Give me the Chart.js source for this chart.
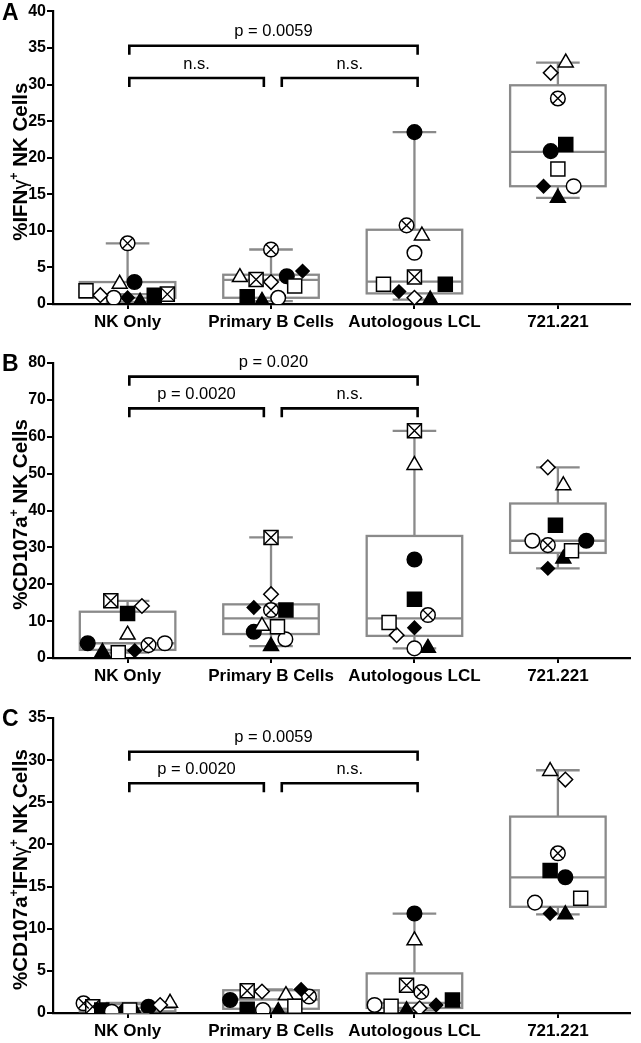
<!DOCTYPE html>
<html><head><meta charset="utf-8">
<script src="https://cdn.jsdelivr.net/npm/chart.js@4.4.1/dist/chart.umd.min.js"></script>
<style>
html,body{margin:0;padding:0;background:#fff;}
#wrap{position:relative;width:641px;height:1043px;overflow:hidden;}
.pane{position:absolute;left:0;width:641px;}
</style></head><body>
<div id="wrap">
<div class="pane" style="top:0;height:335px"><canvas id="cA"></canvas></div>
<div class="pane" style="top:335px;height:358px"><canvas id="cB"></canvas></div>
<div class="pane" style="top:693px;height:350px"><canvas id="cC"></canvas></div>
</div>
<script>
// ---------- DATA ----------
const categories = ['NK Only', 'Primary B Cells', 'Autologous LCL', '721.221'];
// donor marker order
const donorStyles = ['openSquare','openDiamond','openCircle','filledDiamond','filledTriangle','filledSquare','crossedSquare','crossedCircle','openTriangle','filledCircle'];

// Panel A: %IFNγ+ NK cells (values per category, donor order)
const ifngNK  = [1.8, 1.2, 0.85, 0.85, 0.3, 1.2, 1.35, 8.3, 2.75, 3.0];
const ifngPB  = [2.45, 3.0, 0.85, 4.5, 0.4, 1.0, 3.35, 7.45, 3.65, 3.8];
const ifngLCL = [2.7, 0.85, 7.0, 1.7, 0.6, 2.7, 3.7, 10.75, 9.35, 23.5];
const ifng721 = [18.45, 31.6, 16.1, 16.1, 14.5, 21.8, null, 28.1, 33.0, 20.9];
const ifngMin = [0.3, 0.4, 0.6, 14.5];
const ifngQ1  = [0.85, 0.85, 1.45, 16.1];
const ifngMed = [1.35, 3.3, 3.05, 20.8];
const ifngQ3  = [3.0, 4.0, 10.15, 29.9];
const ifngMax = [8.3, 7.45, 23.5, 33.0];
const ifngTicks = [0, 5, 10, 15, 20, 25, 30, 35, 40];
const ifngBrackets = [35.3, 30.9, 30.9];
const ifngLabels = ['p = 0.0059', 'n.s.', 'n.s.'];

// Panel B: %CD107a+ NK cells
const cdNK  = [1.45, 14.1, 4.0, 2.0, 1.6, 12.1, 15.5, 3.5, 6.3, 4.0];
const cdPB  = [8.5, 17.3, 5.1, 13.7, 3.2, 13.0, 32.7, 13.0, 8.7, 7.1];
const cdLCL = [9.6, 6.2, 2.6, 8.2, 2.7, 15.9, 61.6, 11.65, 52.3, 26.7];
const cd721 = [29.1, 51.7, 31.8, 24.3, 26.9, 36.0, null, 30.6, 46.8, 31.8];
const cdMin = [1.45, 3.2, 2.6, 24.3];
const cdQ1  = [2.2, 6.5, 6.0, 28.5];
const cdMed = [4.0, 10.75, 10.75, 31.8];
const cdQ3  = [12.55, 14.55, 33.1, 41.9];
const cdMax = [15.5, 32.7, 61.6, 51.7];
const cdTicks = [0, 10, 20, 30, 40, 50, 60, 70, 80];
const cdBrackets = [76.3, 67.7, 67.7];
const cdLabels = ['p = 0.020', 'p = 0.0020', 'n.s.'];

// Panel C: %CD107a+IFNγ+ NK cells
const dpNK  = [0.35, 0.95, 0.15, 0.25, 0.05, 0.35, 0.75, 1.15, 1.2, 0.75];
const dpPB  = [0.8, 2.55, 0.35, 2.8, 0.2, 0.45, 2.65, 1.95, 2.1, 1.55];
const dpLCL = [0.8, 0.55, 0.95, 0.95, 0.3, 1.55, 3.3, 2.5, 8.6, 11.8];
const dp721 = [13.6, 27.7, 13.1, 11.8, 11.7, 16.9, null, 18.95, 28.7, 16.1];
const dpMin = [0.05, 0.2, 0.3, 11.7];
const dpQ1  = [0.2, 0.5, 0.6, 12.6];
const dpMed = [0.6, 1.6, 1.2, 16.1];
const dpQ3  = [1.05, 2.7, 4.7, 23.3];
const dpMax = [1.2, 2.8, 11.8, 28.8];
const dpTicks = [0, 5, 10, 15, 20, 25, 30, 35];
const dpBrackets = [31.0, 27.25, 27.25];
const dpLabels = ['p = 0.0059', 'p = 0.0020', 'n.s.'];

// horizontal scatter (jitter) of the points, in category units (layout only)
const jitA = [
  [-0.29, -0.19, -0.096, 0, 0.087, 0.186, 0.277, 0, -0.055, 0.048],
  [0.165, 0, 0.05, 0.22, -0.063, -0.166, -0.104, 0, -0.217, 0.11],
  [-0.216, 0, 0, -0.108, 0.11, 0.215, 0, -0.055, 0.052, 0],
  [0, -0.05, 0.11, -0.1, 0, 0.055, 0, 0, 0.055, -0.05]];
const jitB = [
  [-0.065, 0.1, 0.26, 0.05, -0.175, 0, -0.117, 0.146, 0, -0.278],
  [0.045, 0, 0.1, -0.12, 0, 0.104, 0, 0, -0.063, -0.12],
  [-0.177, -0.124, 0, 0, 0.094, 0, 0, 0.094, 0, 0],
  [0.095, -0.07, -0.178, -0.07, 0.038, -0.017, 0, -0.07, 0.038, 0.198]];
const jitC = [
  [0.014, 0.227, -0.11, -0.037, 0.055, -0.18, -0.243, -0.307, 0.296, 0.146],
  [0.166, -0.063, -0.056, 0.21, 0.05, -0.166, -0.166, 0.265, 0.104, -0.285],
  [-0.163, 0.036, -0.278, 0.151, -0.055, 0.265, -0.055, 0.048, 0, 0],
  [0.159, 0.052, -0.16, -0.054, 0.052, -0.054, 0, 0, -0.054, 0.052]];

// ---------- RENDERING ----------
const FONT = "'Liberation Sans', Arial, Helvetica, sans-serif";
const BOX_COLOR = '#8a8a8a';

function markerDatasets(vals, jit) {
  const base = [], overlays = [];
  donorStyles.forEach((st, d) => {
    const data = [];
    for (let c = 0; c < 4; c++) {
      const v = vals[c][d];
      if (v !== null && v !== undefined) data.push({x: c + jit[c][d], y: v});
    }
    const filled = st.startsWith('filled');
    let ps, r;
    if (st.endsWith('Square')) { ps = 'rect'; r = 9.9; }
    else if (st.endsWith('Diamond')) { ps = 'rectRot'; r = filled ? 6.6 : 7.3; }
    else if (st.endsWith('Circle')) { ps = 'circle'; r = 7.3; }
    else { ps = 'triangle'; r = 8.6; }
    base.push({data, pointStyle: ps, pointRadius: r, pointHoverRadius: r,
      pointBackgroundColor: filled ? '#000' : '#fff', pointBorderColor: '#000',
      pointBorderWidth: 1.5, pointHoverBorderWidth: 1.5, showLine: false});
    if (st.startsWith('crossed')) {
      const cr = ps === 'rect' ? 9.9 : 7.3;
      overlays.push({data, pointStyle: 'crossRot', pointRadius: cr, pointHoverRadius: cr,
        pointBorderColor: '#000', pointBackgroundColor: '#000', pointBorderWidth: 1.4, showLine: false});
    }
  });
  return overlays.concat(base);
}

const panelPlugin = {
  id: 'panelPlugin',
  beforeDatasetsDraw(chart) {
    const p = chart.options.plugins.panelPlugin;
    const xs = chart.scales.x, ys = chart.scales.y, ctx = chart.ctx;
    const unit = xs.getPixelForValue(1) - xs.getPixelForValue(0);
    const hw = 0.333 * unit, cw = 0.152 * unit;
    ctx.save();
    ctx.strokeStyle = BOX_COLOR; ctx.lineWidth = 2.3; ctx.lineCap = 'butt';
    for (let c = 0; c < 4; c++) {
      const xc = xs.getPixelForValue(c);
      const yMin = ys.getPixelForValue(p.box.min[c]), yQ1 = ys.getPixelForValue(p.box.q1[c]);
      const yMed = ys.getPixelForValue(p.box.med[c]), yQ3 = ys.getPixelForValue(p.box.q3[c]);
      const yMax = ys.getPixelForValue(p.box.max[c]);
      ctx.beginPath();
      ctx.moveTo(xc, yMin); ctx.lineTo(xc, yQ1);
      ctx.moveTo(xc, yQ3); ctx.lineTo(xc, yMax);
      ctx.moveTo(xc - cw, yMin); ctx.lineTo(xc + cw, yMin);
      ctx.moveTo(xc - cw, yMax); ctx.lineTo(xc + cw, yMax);
      ctx.moveTo(xc - hw, yMed); ctx.lineTo(xc + hw, yMed);
      ctx.stroke();
      ctx.strokeRect(xc - hw, yQ3, 2 * hw, yQ1 - yQ3);
    }
    ctx.restore();
  },
  afterDraw(chart) {
    const p = chart.options.plugins.panelPlugin;
    const xs = chart.scales.x, ys = chart.scales.y, ctx = chart.ctx;
    const ca = chart.chartArea;
    ctx.save();
    // brackets
    const spans = [[0.012, 2.022], [0.012, 0.95], [1.075, 2.022]];
    ctx.strokeStyle = '#000'; ctx.lineWidth = 2.6; ctx.lineCap = 'butt'; ctx.lineJoin = 'miter';
    ctx.fillStyle = '#000';
    ctx.font = '16.5px ' + FONT; ctx.textAlign = 'center'; ctx.textBaseline = 'middle';
    spans.forEach((s, i) => {
      const x1 = xs.getPixelForValue(s[0]), x2 = xs.getPixelForValue(s[1]);
      const y = ys.getPixelForValue(p.brackets[i]);
      ctx.beginPath();
      ctx.moveTo(x1, y + 9); ctx.lineTo(x1, y); ctx.lineTo(x2, y); ctx.lineTo(x2, y + 9);
      ctx.stroke();
      ctx.fillText(p.labels[i], (x1 + x2) / 2, y - 14);
    });
    // panel letter
    ctx.font = 'bold 23px ' + FONT; ctx.textAlign = 'left';
    ctx.fillText(p.letter, 2, ys.getPixelForValue(ys.max) + 2);
    // y title with superscripts
    const cy = (ca.top + ca.bottom) / 2 + 4;
    ctx.translate(19, cy); ctx.rotate(-Math.PI / 2);
    const fonts = {b: 'bold 20.5px ' + FONT, g: '19.5px ' + FONT, s: 'bold 12.5px ' + FONT};
    let total = 0;
    p.title.forEach(part => { ctx.font = fonts[part[1]]; total += ctx.measureText(part[0]).width; });
    let x = -total / 2;
    ctx.textAlign = 'left'; ctx.textBaseline = 'alphabetic';
    p.title.forEach(part => {
      ctx.font = fonts[part[1]];
      ctx.fillText(part[0], x, part[1] === 's' ? -1 : 7.5);
      x += ctx.measureText(part[0]).width;
    });
    ctx.restore();
  }
};

function makeChart(id, cfg) {
  const tickList = cfg.ticks;
  return new Chart(document.getElementById(id), {
    type: 'scatter',
    data: {datasets: markerDatasets(cfg.vals, cfg.jit)},
    options: {
      responsive: true, maintainAspectRatio: false, animation: false,
      events: [],
      layout: {padding: {top: cfg.padTop, right: 3, left: 0, bottom: 0}},
      plugins: {
        legend: {display: false}, tooltip: {enabled: false},
        panelPlugin: {box: cfg.box, brackets: cfg.brackets, labels: cfg.labels, letter: cfg.letter, title: cfg.title}
      },
      scales: {
        x: {
          type: 'linear', min: -0.52, max: 3.5,
          afterBuildTicks: s => { s.ticks = [0, 1, 2, 3].map(v => ({value: v})); },
          afterFit: s => { s.height = cfg.xH; },
          ticks: {callback: v => categories[v], color: '#000', padding: 3, maxRotation: 0, autoSkip: false,
            font: {family: FONT, size: 17, weight: 'bold'}},
          grid: {display: true, drawOnChartArea: false, drawTicks: true, tickLength: 5, color: '#000', lineWidth: 2},
          border: {display: true, color: '#000', width: 2.2}
        },
        y: {
          type: 'linear', min: tickList[0], max: tickList[tickList.length - 1],
          afterBuildTicks: s => { s.ticks = tickList.map(v => ({value: v})); },
          afterFit: s => { s.width = 53; },
          ticks: {color: '#000', padding: 1, font: {family: FONT, size: 16, weight: 'bold'}},
          grid: {display: true, drawOnChartArea: false, drawTicks: true, tickLength: 6, color: '#000', lineWidth: 2},
          border: {display: true, color: '#000', width: 2.2}
        }
      }
    },
    plugins: [panelPlugin]
  });
}

makeChart('cA', {
  vals: [ifngNK, ifngPB, ifngLCL, ifng721], jit: jitA, ticks: ifngTicks,
  box: {min: ifngMin, q1: ifngQ1, med: ifngMed, q3: ifngQ3, max: ifngMax},
  brackets: ifngBrackets, labels: ifngLabels, letter: 'A',
  title: [['%IFN', 'b'], ['γ', 'g'], ['+', 's'], [' NK Cells', 'b']],
  padTop: 9, xH: 31
});
makeChart('cB', {
  vals: [cdNK, cdPB, cdLCL, cd721], jit: jitB, ticks: cdTicks,
  box: {min: cdMin, q1: cdQ1, med: cdMed, q3: cdQ3, max: cdMax},
  brackets: cdBrackets, labels: cdLabels, letter: 'B',
  title: [['%CD107a', 'b'], ['+', 's'], [' NK Cells', 'b']],
  padTop: 28, xH: 35
});
makeChart('cC', {
  vals: [dpNK, dpPB, dpLCL, dp721], jit: jitC, ticks: dpTicks,
  box: {min: dpMin, q1: dpQ1, med: dpMed, q3: dpQ3, max: dpMax},
  brackets: dpBrackets, labels: dpLabels, letter: 'C',
  title: [['%CD107a', 'b'], ['+', 's'], ['IFN', 'b'], ['γ', 'g'], ['+', 's'], [' NK Cells', 'b']],
  padTop: 25, xH: 30
});
</script>
</body></html>
